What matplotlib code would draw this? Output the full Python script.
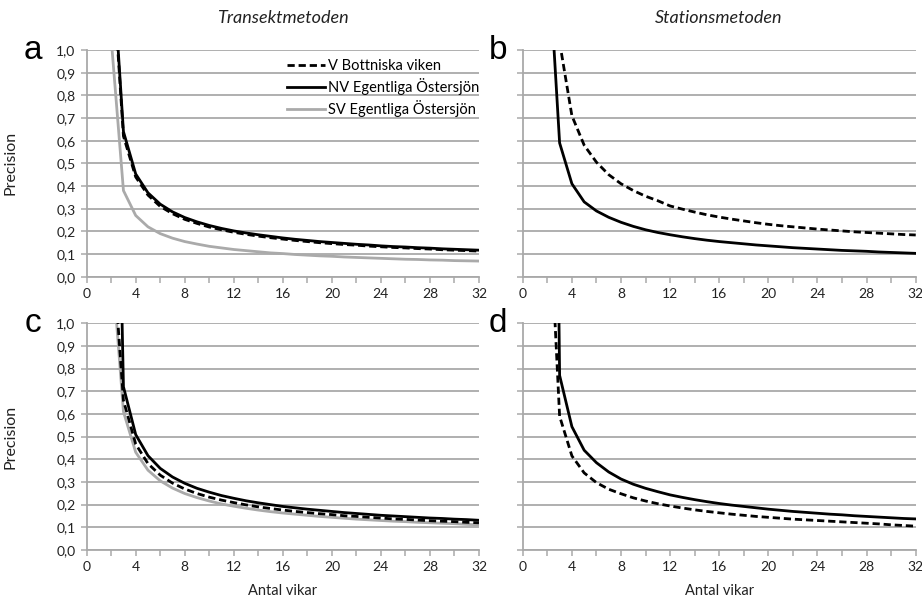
import numpy as np
import matplotlib.pyplot as plt
from matplotlib.ticker import MultipleLocator
from matplotlib.lines import Line2D

# Antal vikar (number of bays)
n = list(range(2, 33))

# Transektmetoden (a)
a_v = [1.45, .62, .44, .36, .31, .278, .253, .235, .219, .207, .196, .187, .179, .172, .166, .160,
       .155, .150, .146, .142, .139, .135, .132, .129, .127, .124, .122, .119, .117, .115, .113]
a_nv = [1.48, .64, .453, .37, .32, .286, .261, .242, .226, .213, .202, .193, .185, .178, .171, .165,
        .160, .155, .151, .147, .143, .140, .136, .133, .131, .128, .126, .123, .121, .119, .117]
a_sv = [1.05, .38, .27, .22, .19, .17, .155, .144, .134, .127, .120, .115, .110, .105, .102, .098,
        .095, .092, .090, .087, .085, .083, .081, .079, .077, .076, .074, .073, .071, .070, .069]

# Stationsmetoden (b)
b_v = [np.nan, 1.035, .71, .58, .505, .45, .41, .38, .355, .335, .312, .298, .285, .273, .263, .254,
       .246, .238, .231, .225, .220, .215, .210, .206, .202, .198, .195, .192, .189, .186, .184]
b_nv = [1.5, .59, .41, .33, .29, .262, .24, .222, .207, .195, .185, .176, .168, .161, .155, .150,
        .145, .140, .136, .132, .128, .125, .122, .119, .116, .114, .112, .109, .107, .105, .103]

# Transektmetoden (c)
c_v = [1.42, .66, .467, .381, .33, .295, .269, .249, .233, .22, .209, .199, .19, .183, .176, .17,
       .165, .16, .156, .151, .148, .144, .141, .137, .135, .132, .129, .127, .125, .122, .12]
c_nv = [3.3, .72, .509, .416, .36, .322, .294, .272, .255, .24, .228, .217, .208, .2, .192, .186,
        .18, .175, .17, .165, .161, .157, .153, .15, .147, .144, .141, .139, .136, .134, .131]
c_sv = [1.31, .61, .431, .352, .305, .273, .249, .231, .216, .203, .193, .184, .176, .169, .163, .158,
        .153, .148, .144, .14, .136, .133, .13, .127, .125, .122, .12, .118, .116, .113, .111]

# Stationsmetoden (d)
d_v = [1.7, .59, .415, .34, .297, .268, .248, .23, .216, .204, .194, .185, .177, .17, .164, .158,
       .153, .148, .144, .14, .136, .133, .13, .127, .124, .121, .118, .115, .111, .108, .105]
d_nv = [5.4, .77, .544, .44, .385, .344, .313, .29, .272, .257, .243, .232, .222, .213, .205, .198,
        .192, .186, .18, .175, .17, .166, .162, .158, .155, .151, .148, .145, .142, .139, .137]

series_names = ['V Bottniska viken', 'NV Egentliga Östersjön', 'SV Egentliga Östersjön']
y_ticks = [0.0, 0.1, 0.2, 0.3, 0.4, 0.5, 0.6, 0.7, 0.8, 0.9, 1.0]
y_labels = ['0,0', '0,1', '0,2', '0,3', '0,4', '0,5', '0,6', '0,7', '0,8', '0,9', '1,0']

plt.rcParams['font.family'] = ['Lato', 'DejaVu Sans']

fig = plt.figure(figsize=(9.22, 6.01), dpi=100)

grid_c = '#a9a9a9'
txt_c = '#222222'
styles = {
    'v': dict(color='black', lw=2.0, ls=(0, (2.6, 1.4))),
    'nv': dict(color='black', lw=2.0, ls='-'),
    'sv': dict(color='#aaaaaa', lw=2.0, ls='-'),
}

panels = [
    ('a', [0.094, 0.5396, 0.4255, 0.3772], [('sv', a_sv), ('v', a_v), ('nv', a_nv)], True, False),
    ('b', [0.567, 0.5396, 0.4262, 0.3772], [('v', b_v), ('nv', b_nv)], False, False),
    ('c', [0.094, 0.0849, 0.4255, 0.3772], [('sv', c_sv), ('nv', c_nv), ('v', c_v)], True, True),
    ('d', [0.567, 0.0849, 0.4262, 0.3772], [('v', d_v), ('nv', d_nv)], False, True),
]

axes = {}
for letter, pos, lines, left, bottom in panels:
    ax = fig.add_axes(pos)
    axes[letter] = ax
    for key, vals in lines:
        ax.plot(n, vals, **styles[key], zorder=3)
    ax.set_xlim(0, 32)
    ax.set_ylim(0, 1.0)
    ax.set_axisbelow(True)
    ax.set_yticks(y_ticks)
    ax.set_yticklabels(y_labels if left else [])
    ax.xaxis.set_major_locator(MultipleLocator(4))
    ax.xaxis.set_minor_locator(MultipleLocator(2))
    ax.grid(axis='y', color=grid_c, lw=1.3)
    for s in ['top', 'right']:
        ax.spines[s].set_visible(False)
    for s in ['left', 'bottom']:
        ax.spines[s].set_color(grid_c)
        ax.spines[s].set_linewidth(1.3)
    ax.tick_params(which='both', direction='out', length=4, width=1.1, color=grid_c,
                   labelsize=10, labelcolor=txt_c, pad=4)
    if left:
        ax.set_ylabel('Precision', fontsize=11.5, color=txt_c)
        ax.yaxis.set_label_coords(-0.176, 0.5)
    if bottom:
        ax.set_xlabel('Antal vikar', fontsize=10.5, color=txt_c)
        ax.xaxis.set_label_coords(0.5, -0.148)
    ax.text(-0.137 if left else -0.064, 0.96, letter, transform=ax.transAxes,
            fontsize=24, family='Liberation Sans', ha='center', va='baseline')

# legend in panel a
handles = [Line2D([], [], **styles['v']), Line2D([], [], **styles['nv']), Line2D([], [], **styles['sv'])]
axes['a'].legend(handles, series_names, loc='upper left', bbox_to_anchor=(0.497, 0.985),
                 frameon=False, fontsize=10.5, handlelength=2.6, handletextpad=0.2,
                 labelspacing=0.35, borderaxespad=0)

fig.text(283 / 922, 1 - 18 / 601, 'Transektmetoden', style='italic', fontsize=13,
         ha='center', va='center', color=txt_c)
fig.text(719 / 922, 1 - 18 / 601, 'Stationsmetoden', style='italic', fontsize=13,
         ha='center', va='center', color=txt_c)

fig.savefig('out.png', dpi=100)
